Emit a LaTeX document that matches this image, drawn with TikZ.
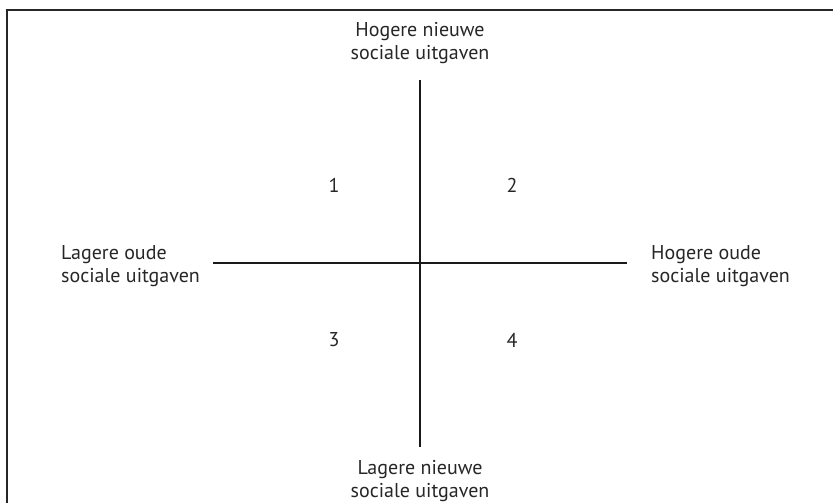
\documentclass[tikz,border=0pt]{standalone}
\usepackage{fontspec}
\setmainfont{PT Sans}
\usetikzlibrary{positioning}

\begin{document}
\begin{tikzpicture}[
    x=1pt, y=-1pt,
    axis/.style={line width=2.4pt, black!90},
    lbl/.style={font=\fontsize{20}{22.5}\selectfont, align=center, inner sep=0pt, text=black!85},
    num/.style={font=\fontsize{20}{22.5}\selectfont, inner sep=0pt, text=black!85}
]
\useasboundingbox (0,0) rectangle (833,503);
% frame
\coordinate (fbl) at (7,503);
\coordinate (ftl) at (7,10);
\coordinate (ftr) at (833,10);
\draw[line width=1.8pt, black!85] (fbl) -- (ftl) -- (ftr);

% axes
\coordinate (ntop) at (420,80);
\coordinate (nbot) at (420,447);
\coordinate (oleft) at (213,263);
\coordinate (oright) at (627,263);
\draw[axis] (ntop) -- (nbot);
\draw[axis] (oleft) -- (oright);

% axis labels
\node[lbl] (hn) at (420,43) {Hogere nieuwe\\sociale uitgaven};
\node[lbl] (ln) at (420,481) {Lagere nieuwe\\sociale uitgaven};
\node[lbl, align=left, anchor=west] (lo) at (61,266) {Lagere oude\\sociale uitgaven};
\node[lbl, align=left, anchor=west] (ho) at (651,266) {Hogere oude\\sociale uitgaven};

% quadrants
\node[num] (q1) at (334,185) {1};
\node[num] (q2) at (512,185) {2};
\node[num] (q3) at (334,340) {3};
\node[num] (q4) at (512,340) {4};
\end{tikzpicture}
\end{document}
